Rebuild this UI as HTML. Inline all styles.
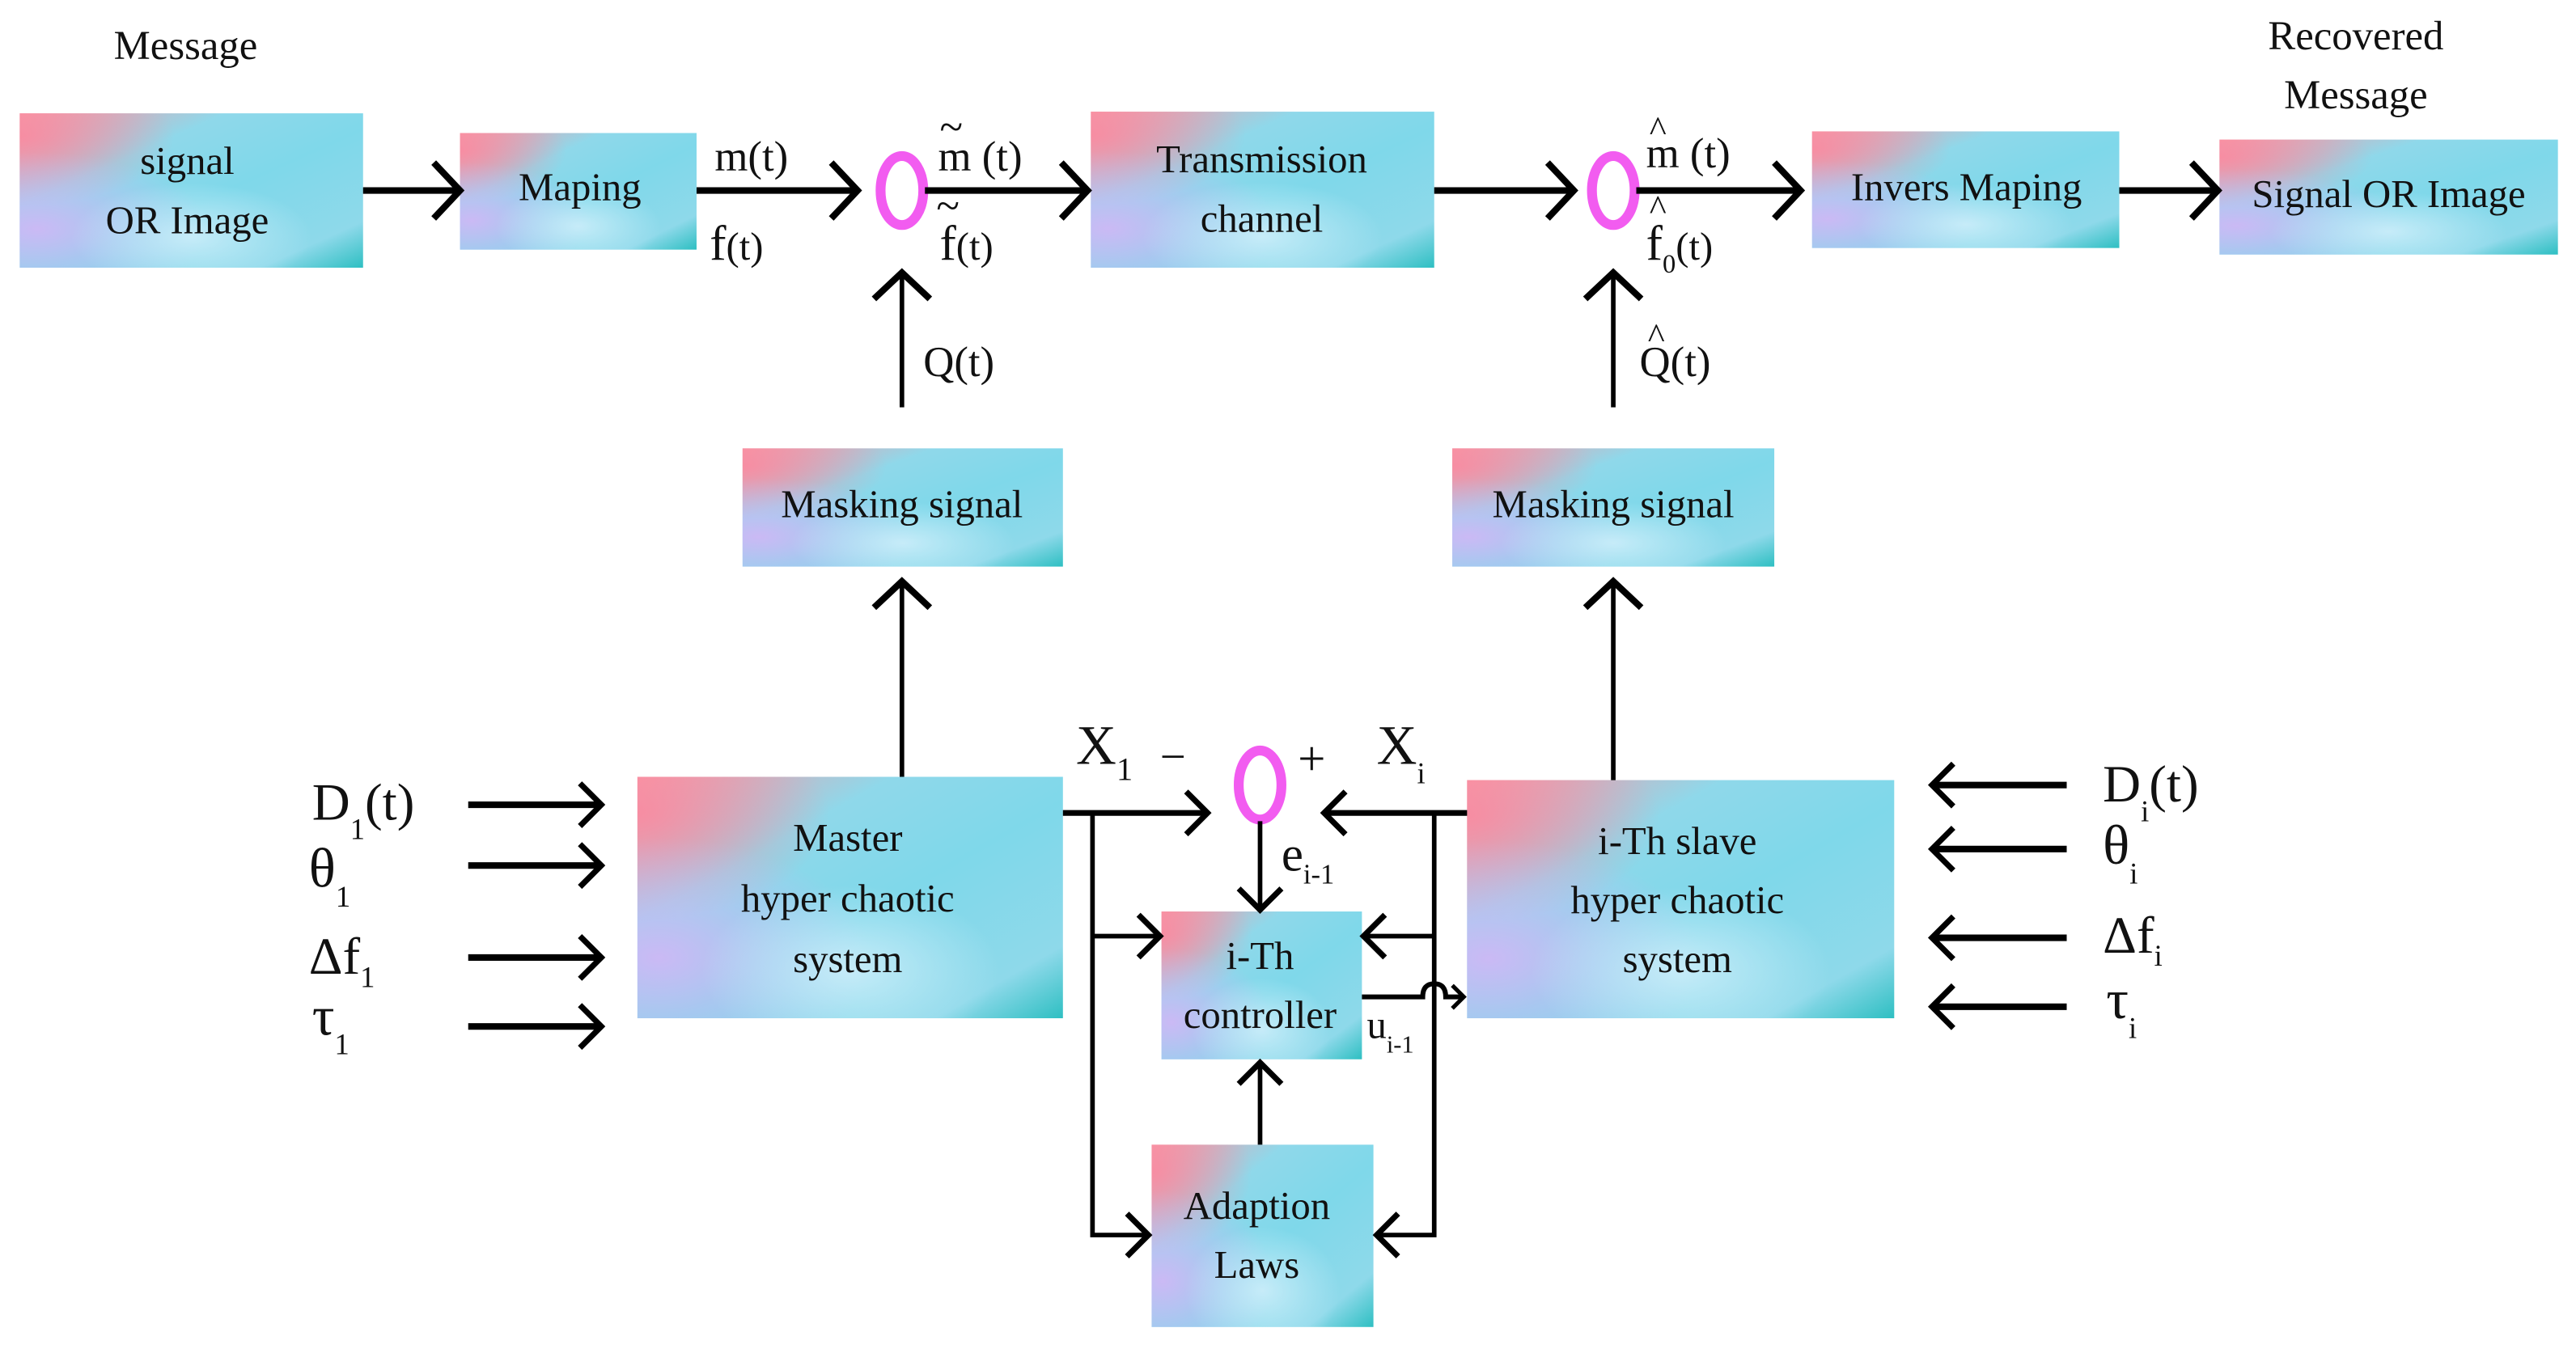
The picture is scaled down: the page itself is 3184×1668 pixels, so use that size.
<!DOCTYPE html>
<html><head><meta charset="utf-8"><style>
html,body{margin:0;padding:0;background:#fff;}
svg{display:block;}
text{font-family:"Liberation Serif",serif;fill:#111;}
</style></head><body>
<svg width="3184" height="1668" viewBox="0 0 1568 821.4" preserveAspectRatio="none" xmlns="http://www.w3.org/2000/svg">
<defs>
<linearGradient id="gb" x1="0" y1="0" x2="1" y2="1">
<stop offset="0" stop-color="#f89aa6"/><stop offset="0.3" stop-color="#8fd8ea"/><stop offset="0.55" stop-color="#7fd8ea"/><stop offset="0.85" stop-color="#8ed9ea"/><stop offset="1" stop-color="#2ebfc2"/>
</linearGradient>
<radialGradient id="gl" cx="0.05" cy="0.75" r="0.5"><stop offset="0" stop-color="#d2b6f6" stop-opacity="0.9"/><stop offset="1" stop-color="#d2b6f6" stop-opacity="0"/></radialGradient>
<radialGradient id="gc" cx="0.5" cy="0.8" r="0.35"><stop offset="0" stop-color="#cdeefa" stop-opacity="0.9"/><stop offset="1" stop-color="#cdeefa" stop-opacity="0"/></radialGradient>
<radialGradient id="gp" cx="0" cy="0.15" r="0.45"><stop offset="0" stop-color="#fa8aa0" stop-opacity="0.9"/><stop offset="1" stop-color="#fa8aa0" stop-opacity="0"/></radialGradient>
<marker id="ah" markerUnits="userSpaceOnUse" markerWidth="24" markerHeight="40" refX="18" refY="20" orient="auto" viewBox="0 0 24 40">
<path d="M2,3 L18,20 L2,37" fill="none" stroke="#000" stroke-width="4"/>
</marker>
<marker id="as" markerUnits="userSpaceOnUse" markerWidth="20" markerHeight="32" refX="15" refY="16" orient="auto" viewBox="0 0 20 32">
<path d="M2,3 L15,16 L2,29" fill="none" stroke="#000" stroke-width="3.5"/>
</marker>
<g id="dummy"></g>
</defs>

<!-- boxes -->
<g>
<rect x="12" y="69" width="209" height="94" fill="url(#gb)"/><rect x="12" y="69" width="209" height="94" fill="url(#gp)"/><rect x="12" y="69" width="209" height="94" fill="url(#gl)"/><rect x="12" y="69" width="209" height="94" fill="url(#gc)"/>
<rect x="280" y="81" width="144" height="71" fill="url(#gb)"/><rect x="280" y="81" width="144" height="71" fill="url(#gp)"/><rect x="280" y="81" width="144" height="71" fill="url(#gl)"/><rect x="280" y="81" width="144" height="71" fill="url(#gc)"/>
<rect x="664" y="68" width="209" height="95" fill="url(#gb)"/><rect x="664" y="68" width="209" height="95" fill="url(#gp)"/><rect x="664" y="68" width="209" height="95" fill="url(#gl)"/><rect x="664" y="68" width="209" height="95" fill="url(#gc)"/>
<rect x="1103" y="80" width="187" height="71" fill="url(#gb)"/><rect x="1103" y="80" width="187" height="71" fill="url(#gp)"/><rect x="1103" y="80" width="187" height="71" fill="url(#gl)"/><rect x="1103" y="80" width="187" height="71" fill="url(#gc)"/>
<rect x="1351" y="85" width="206" height="70" fill="url(#gb)"/><rect x="1351" y="85" width="206" height="70" fill="url(#gp)"/><rect x="1351" y="85" width="206" height="70" fill="url(#gl)"/><rect x="1351" y="85" width="206" height="70" fill="url(#gc)"/>
<rect x="452" y="273" width="195" height="72" fill="url(#gb)"/><rect x="452" y="273" width="195" height="72" fill="url(#gp)"/><rect x="452" y="273" width="195" height="72" fill="url(#gl)"/><rect x="452" y="273" width="195" height="72" fill="url(#gc)"/>
<rect x="884" y="273" width="196" height="72" fill="url(#gb)"/><rect x="884" y="273" width="196" height="72" fill="url(#gp)"/><rect x="884" y="273" width="196" height="72" fill="url(#gl)"/><rect x="884" y="273" width="196" height="72" fill="url(#gc)"/>
<rect x="388" y="473" width="259" height="147" fill="url(#gb)"/><rect x="388" y="473" width="259" height="147" fill="url(#gp)"/><rect x="388" y="473" width="259" height="147" fill="url(#gl)"/><rect x="388" y="473" width="259" height="147" fill="url(#gc)"/>
<rect x="893" y="475" width="260" height="145" fill="url(#gb)"/><rect x="893" y="475" width="260" height="145" fill="url(#gp)"/><rect x="893" y="475" width="260" height="145" fill="url(#gl)"/><rect x="893" y="475" width="260" height="145" fill="url(#gc)"/>
<rect x="707" y="555" width="122" height="90" fill="url(#gb)"/><rect x="707" y="555" width="122" height="90" fill="url(#gp)"/><rect x="707" y="555" width="122" height="90" fill="url(#gl)"/><rect x="707" y="555" width="122" height="90" fill="url(#gc)"/>
<rect x="701" y="697" width="135" height="111" fill="url(#gb)"/><rect x="701" y="697" width="135" height="111" fill="url(#gp)"/><rect x="701" y="697" width="135" height="111" fill="url(#gl)"/><rect x="701" y="697" width="135" height="111" fill="url(#gc)"/>
</g>

<!-- circles -->
<g fill="none" stroke="#f25cf0" stroke-width="6">
<ellipse cx="549" cy="116" rx="13" ry="21"/>
<ellipse cx="982" cy="116" rx="13" ry="21"/>
<ellipse cx="767" cy="478" rx="13" ry="21"/>
</g>

<!-- connectors -->
<g fill="none" stroke="#000" stroke-width="4">
<line x1="221" y1="116" x2="280" y2="116" marker-end="url(#ah)"/>
<line x1="424" y1="116" x2="522" y2="116" marker-end="url(#ah)"/>
<line x1="563" y1="116" x2="662" y2="116" marker-end="url(#ah)"/>
<line x1="873" y1="116" x2="958" y2="116" marker-end="url(#ah)"/>
<line x1="996" y1="116" x2="1096" y2="116" marker-end="url(#ah)"/>
<line x1="1290" y1="116" x2="1350" y2="116" marker-end="url(#ah)"/>
<line x1="647" y1="495" x2="735" y2="495" marker-end="url(#as)" stroke-width="3.5"/>
<line x1="893" y1="495" x2="806" y2="495" marker-end="url(#as)" stroke-width="3.5"/>
<line x1="285" y1="490" x2="366" y2="490" marker-end="url(#as)"/>
<line x1="285" y1="527" x2="366" y2="527" marker-end="url(#as)"/>
<line x1="285" y1="583" x2="366" y2="583" marker-end="url(#as)"/>
<line x1="285" y1="625" x2="366" y2="625" marker-end="url(#as)"/>
<line x1="1258" y1="478" x2="1176" y2="478" marker-end="url(#as)"/>
<line x1="1258" y1="517" x2="1176" y2="517" marker-end="url(#as)"/>
<line x1="1258" y1="571" x2="1176" y2="571" marker-end="url(#as)"/>
<line x1="1258" y1="613" x2="1176" y2="613" marker-end="url(#as)"/>
</g>
<g fill="none" stroke="#000" stroke-width="2.8">
<line x1="549" y1="248" x2="549" y2="166" marker-end="url(#ah)"/>
<line x1="982" y1="248" x2="982" y2="166" marker-end="url(#ah)"/>
<line x1="549" y1="473" x2="549" y2="354" marker-end="url(#ah)"/>
<line x1="982" y1="475" x2="982" y2="354" marker-end="url(#ah)"/>
<line x1="767" y1="500" x2="767" y2="554" marker-end="url(#as)"/>
<line x1="767" y1="697" x2="767" y2="647" marker-end="url(#as)"/>
<polyline points="665,495 665,752 699,752" marker-end="url(#as)"/>
<line x1="665" y1="570" x2="706" y2="570" marker-end="url(#as)"/>
<polyline points="873,495 873,752 838,752" marker-end="url(#as)"/>
<line x1="873" y1="570" x2="830" y2="570" marker-end="url(#as)"/>
<path d="M829,607 L866,607 Q866,599 873,599 Q880,599 880,607 L891,607" stroke-width="3"/>
<path d="M884,600 L891,607 L884,614" stroke-width="2.5"/>
</g>

<!-- text -->
<g font-size="25" text-anchor="middle">
<text x="113" y="36">Message</text>
<text x="1434" y="30">Recovered</text>
<text x="1434" y="66">Message</text>
<text x="114" y="106" font-size="24">signal</text>
<text x="114" y="142" font-size="24">OR Image</text>
<text x="353" y="122" font-size="24">Maping</text>
<text x="768" y="105" font-size="24">Transmission</text>
<text x="768" y="141" font-size="24">channel</text>
<text x="1197" y="122" font-size="24">Invers Maping</text>
<text x="1454" y="126" font-size="24">Signal OR Image</text>
<text x="549" y="315" font-size="24">Masking signal</text>
<text x="982" y="315" font-size="24">Masking signal</text>
<text x="516" y="518" font-size="24">Master</text>
<text x="516" y="555" font-size="24">hyper chaotic</text>
<text x="516" y="592" font-size="24">system</text>
<text x="1021" y="520" font-size="24">i-Th slave</text>
<text x="1021" y="556" font-size="24">hyper chaotic</text>
<text x="1021" y="592" font-size="24">system</text>
<text x="767" y="590" font-size="24">i-Th</text>
<text x="767" y="626" font-size="24">controller</text>
<text x="765" y="742" font-size="24">Adaption</text>
<text x="765" y="778" font-size="24">Laws</text>
</g>
<g font-size="26">
<text x="435" y="104">m(t)</text>
<text x="432" y="158" font-size="30">f<tspan font-size="24">(t)</tspan></text>
<text x="571" y="104">m (t)</text><text x="572" y="86">~</text>
<text x="572" y="158" font-size="30">f<tspan font-size="24">(t)</tspan></text><text x="570" y="134">~</text>
<text x="1002" y="102">m (t)</text><text x="1004" y="86" font-size="22">^</text>
<text x="1002" y="158" font-size="30">f<tspan font-size="16" dy="8">0</tspan><tspan font-size="24" dy="-8">(t)</tspan></text><text x="1004" y="134" font-size="22">^</text>
<text x="562" y="229">Q(t)</text>
<text x="998" y="229">Q(t)</text><text x="1003" y="212" font-size="22">^</text>
<text x="655" y="465" font-size="34">X<tspan font-size="20" dy="10">1</tspan></text>
<text x="706" y="470" font-size="28">−</text>
<text x="790" y="472" font-size="30">+</text>
<text x="838" y="465" font-size="34">X<tspan font-size="18" dy="12">i</tspan></text>
<text x="780" y="530" font-size="30">e<tspan font-size="17" dy="8">i-1</tspan></text>
<text x="832" y="632" font-size="24">u<tspan font-size="15" dy="9">i-1</tspan></text>
<text x="190" y="499" font-size="32">D<tspan font-size="18" dy="12">1</tspan><tspan dy="-12">(t)</tspan></text>
<text x="188" y="540" font-size="34">θ<tspan font-size="18" dy="12">1</tspan></text>
<text x="188" y="593" font-size="32">Δf<tspan font-size="18" dy="8">1</tspan></text>
<text x="190" y="630" font-size="34">τ<tspan font-size="18" dy="12">1</tspan></text>
<text x="1280" y="488" font-size="32">D<tspan font-size="18" dy="12">i</tspan><tspan dy="-12">(t)</tspan></text>
<text x="1280" y="526" font-size="34">θ<tspan font-size="18" dy="12">i</tspan></text>
<text x="1280" y="580" font-size="32">Δf<tspan font-size="18" dy="8">i</tspan></text>
<text x="1282" y="620" font-size="34">τ<tspan font-size="18" dy="12">i</tspan></text>
</g>
</svg>
</body></html>
